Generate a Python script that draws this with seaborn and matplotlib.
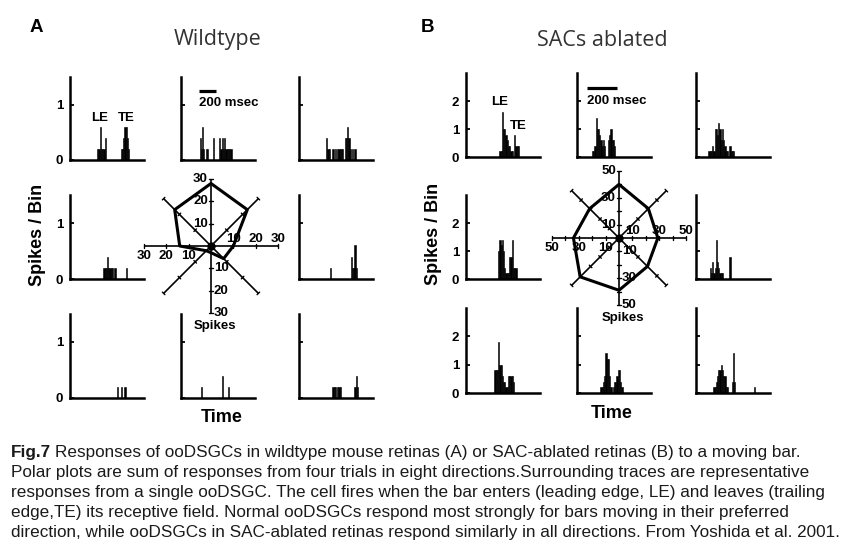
import numpy as np
import pandas as pd
import matplotlib
matplotlib.use('Agg')
import matplotlib.pyplot as plt
import seaborn as sns

sns.set_theme(style='white')
plt.rcParams['font.family'] = ['Liberation Sans', 'DejaVu Sans']

W, H = 850, 557

# ---------------- data ----------------
bin_edges = list(range(0, 61))          # 60 time bins per trace
directions = [0, 45, 90, 135, 180, 225, 270, 315]

# polar plots: summed spikes per direction
wt_spikes = [10, 23, 28, 23, 14, 3, 3, 8]
sac_spikes = [29, 31, 40, 31, 34, 41, 39, 30]
wt_polar_labels = [10, 20, 30]
sac_polar_labels = [10, 30, 50]

wt_yticks = [0, 1]
sac_yticks = [0, 1, 2]

# Wildtype traces (bin index, spikes/bin)
wt_tl_bins = [22, 23, 24, 25, 26, 27, 28, 41, 42, 43, 44, 45, 46, 47]
wt_tl_vals = [0.2, 0.2, 0.6, 0.2, 0.2, 0.2, 0.4, 0.2, 0.2, 0.4, 0.6, 0.6, 0.4, 0.2]
wt_tm_bins = [15, 16, 17, 18, 20, 21, 26, 31, 32, 33, 34, 35, 36, 37, 38, 39, 40]
wt_tm_vals = [0.4, 0.2, 0.6, 0.2, 0.2, 0.2, 0.4, 0.4, 0.2, 0.4, 0.2, 0.4, 0.2, 0.2, 0.2, 0.2, 0.2]
wt_tr_bins = [22, 23, 24, 27, 29, 31, 32, 33, 34, 35, 37, 38, 39, 40, 41, 43, 45]
wt_tr_vals = [0.4, 0.2, 0.2, 0.2, 0.2, 0.2, 0.2, 0.2, 0.2, 0.2, 0.4, 0.4, 0.6, 0.4, 0.2, 0.2, 0.2]
wt_ml_bins = [27, 28, 29, 30, 31, 32, 33, 34, 36, 45]
wt_ml_vals = [0.2, 0.2, 0.2, 0.4, 0.2, 0.2, 0.2, 0.2, 0.2, 0.2]
wt_mr_bins = [25, 42, 43, 44, 45, 46]
wt_mr_vals = [0.2, 0.4, 0.2, 0.2, 0.6, 0.2]
wt_bl_bins = [38, 41, 44]
wt_bl_vals = [0.2, 0.2, 0.2]
wt_bm_bins = [16, 33, 38]
wt_bm_vals = [0.2, 0.4, 0.2]
wt_br_bins = [27, 28, 29, 31, 32, 33, 45, 46, 47]
wt_br_vals = [0.2, 0.2, 0.2, 0.2, 0.2, 0.2, 0.2, 0.4, 0.2]

# SAC-ablated traces
sac_tl_bins = [27, 28, 29, 30, 31, 32, 33, 34, 35, 36, 37, 39, 40, 41, 42]
sac_tl_vals = [0.2, 0.2, 1.6, 1.0, 1.0, 0.8, 0.6, 0.4, 0.4, 0.2, 0.2, 0.8, 0.4, 0.4, 0.4]
sac_tm_bins = [12, 13, 14, 15, 16, 17, 18, 19, 20, 21, 22, 25, 26, 27, 28, 29, 30]
sac_tm_vals = [0.2, 0.2, 0.4, 1.4, 1.0, 1.0, 0.8, 0.6, 0.4, 0.6, 0.4, 0.6, 0.8, 1.0, 0.6, 0.6, 0.4]
sac_tr_bins = [10, 11, 12, 13, 14, 15, 16, 17, 18, 19, 20, 21, 22, 23, 24, 25, 27, 28, 29, 30]
sac_tr_vals = [0.2, 0.2, 0.2, 0.4, 0.2, 1.0, 1.0, 0.8, 1.2, 1.0, 0.6, 1.0, 0.6, 0.4, 0.2, 0.2, 0.4, 0.2, 0.2, 0.2]
sac_ml_bins = [26, 27, 28, 29, 30, 31, 32, 33, 34, 35, 36, 37, 38, 39, 40]
sac_ml_vals = [1.0, 1.4, 1.2, 1.4, 1.0, 0.4, 0.2, 0.2, 0.2, 0.8, 0.8, 1.4, 0.4, 0.4, 0.4]
sac_mr_bins = [11, 12, 13, 14, 15, 16, 17, 18, 19, 20, 21, 27]
sac_mr_vals = [0.4, 0.2, 0.6, 0.2, 0.4, 1.4, 0.6, 0.4, 0.2, 0.2, 0.2, 0.8]
sac_bl_bins = [23, 24, 25, 26, 27, 28, 29, 30, 31, 32, 33, 34, 35, 36, 37, 38]
sac_bl_vals = [0.8, 0.8, 0.8, 1.8, 1.0, 1.0, 0.6, 0.4, 0.4, 0.2, 0.2, 0.6, 0.6, 0.6, 0.6, 0.4]
sac_bm_bins = [19, 20, 21, 22, 23, 24, 25, 26, 27, 29, 30, 31, 32, 33, 34, 35, 36]
sac_bm_vals = [0.2, 0.2, 0.4, 0.6, 1.4, 1.2, 1.2, 0.6, 0.2, 0.2, 0.4, 0.4, 0.6, 0.8, 0.8, 0.4, 0.2]
sac_br_bins = [14, 15, 16, 17, 18, 19, 20, 21, 22, 23, 24, 25, 29, 30, 31, 47]
sac_br_vals = [0.2, 0.2, 0.4, 0.6, 0.8, 0.8, 1.0, 0.8, 0.6, 0.6, 0.2, 0.2, 0.4, 1.4, 0.4, 0.2]

caption_lines = [
    "Responses of ooDSGCs in wildtype mouse retinas (A) or SAC-ablated retinas (B) to a moving bar.",
    "Polar plots are sum of responses from four trials in eight directions.Surrounding traces are representative",
    "responses from a single ooDSGC. The cell fires when the bar enters (leading edge, LE) and leaves (trailing",
    "edge,TE) its receptive field. Normal ooDSGCs respond most strongly for bars moving in their preferred",
    "direction, while ooDSGCs in SAC-ablated retinas respond similarly in all directions. From Yoshida et al. 2001.",
]

# ---------------- figure ----------------
fig = plt.figure(figsize=(W / 100, H / 100), dpi=100)
fig.patch.set_facecolor('white')


def T(x, y, s, **kw):
    return fig.text(x / W, 1 - y / H, s, **kw)


def hist_axes(x0, y_top, y_bot, bins, vals, ymax, yticks, labels):
    ax = fig.add_axes([x0 / W, 1 - y_bot / H, 74 / W, (y_bot - y_top) / H])
    df = pd.DataFrame({'t': [b + 0.5 for b in bins], 'w': vals})
    sns.histplot(data=df, x='t', weights='w', bins=bin_edges, color='black', alpha=1,
                 edgecolor='black', linewidth=0.4, ax=ax)
    ax.set_xlim(0, 60)
    ax.set_ylim(0, ymax)
    ax.set_xticks([])
    ax.set_yticks(yticks)
    if labels:
        ax.set_yticklabels([str(t) for t in yticks], fontweight='bold', fontsize=9.5)
    else:
        ax.set_yticklabels([])
    ax.tick_params(axis='y', direction='in', length=3, width=1.3, colors='black', pad=5,
                   left=True)
    ax.set_xlabel('')
    ax.set_ylabel('')
    for s in ['top', 'right']:
        ax.spines[s].set_visible(False)
    for s in ['left', 'bottom']:
        ax.spines[s].set_linewidth(1.8)
        ax.spines[s].set_color('black')
    ax.set_facecolor('none')
    return ax


def polar_axes(cx, cy, rmax, spikes, label_vals, tick_step):
    ppu = 67.0 / rmax
    half = 80
    ax = fig.add_axes([(cx - half) / W, 1 - (cy + half) / H, 2 * half / W, 2 * half / H])
    lim = half / ppu
    ax.set_xlim(-lim, lim)
    ax.set_ylim(-lim, lim)
    ax.axis('off')
    for ang in directions:
        t = np.deg2rad(ang)
        ax.plot([0, rmax * np.cos(t)], [0, rmax * np.sin(t)], color='black', lw=1.2,
                solid_capstyle='butt')
        nx, ny = -np.sin(t), np.cos(t)
        tl = 1.8 / ppu
        for v in np.arange(tick_step, rmax + 0.01, tick_step):
            px, py = v * np.cos(t), v * np.sin(t)
            ax.plot([px - nx * tl, px + nx * tl], [py - ny * tl, py + ny * tl],
                    color='black', lw=1.0)
    th = np.deg2rad(np.array(directions + [directions[0]]))
    r = np.array(spikes + [spikes[0]], dtype=float)
    sns.lineplot(x=r * np.cos(th), y=r * np.sin(th), sort=False, estimator=None,
                 color='black', lw=2.2, ax=ax)
    ax.plot([0], [0], 'o', color='black', ms=5)
    kw = dict(fontsize=9.5, fontweight='bold', color='black')
    for v in label_vals:
        ax.text(-3 / ppu, v, str(v), ha='right', va='center', **kw)
        ax.text(3 / ppu, -v, str(v), ha='left', va='center', **kw)
        ax.text(v, 7 / ppu, str(v), ha='center', va='center', **kw)
        ax.text(-v, -10 / ppu, str(v), ha='center', va='center', **kw)
    ax.text(4 / ppu, -80 / ppu, 'Spikes', ha='center', va='center', **kw)
    return ax


# ---- Panel A: wildtype ----
colsA = [70, 181, 299]
rowsA = [(77, 160), (195, 279), (314, 398)]
gridA = [[(wt_tl_bins, wt_tl_vals), (wt_tm_bins, wt_tm_vals), (wt_tr_bins, wt_tr_vals)],
         [(wt_ml_bins, wt_ml_vals), None, (wt_mr_bins, wt_mr_vals)],
         [(wt_bl_bins, wt_bl_vals), (wt_bm_bins, wt_bm_vals), (wt_br_bins, wt_br_vals)]]
for i, (yt, yb) in enumerate(rowsA):
    for j, x0 in enumerate(colsA):
        d = gridA[i][j]
        if d is None:
            continue
        hist_axes(x0, yt, yb, d[0], d[1], 1.5, wt_yticks, j == 0)

polar_axes(211, 246, 30, wt_spikes, wt_polar_labels, 10)

# ---- Panel B: SACs ablated ----
colsB = [466, 577, 696]
rowsB = [(73, 157), (195, 279), (308, 393)]
gridB = [[(sac_tl_bins, sac_tl_vals), (sac_tm_bins, sac_tm_vals), (sac_tr_bins, sac_tr_vals)],
         [(sac_ml_bins, sac_ml_vals), None, (sac_mr_bins, sac_mr_vals)],
         [(sac_bl_bins, sac_bl_vals), (sac_bm_bins, sac_bm_vals), (sac_br_bins, sac_br_vals)]]
for i, (yt, yb) in enumerate(rowsB):
    for j, x0 in enumerate(colsB):
        d = gridB[i][j]
        if d is None:
            continue
        hist_axes(x0, yt, yb, d[0], d[1], 3.0, sac_yticks, j == 0)

polar_axes(619, 238, 50, sac_spikes, sac_polar_labels, 10)

# ---- annotations ----
bold = dict(fontweight='bold', color='black')
T(36, 28, 'A', fontsize=13.5, ha='center', va='center', **bold)
T(428, 28, 'B', fontsize=13.5, ha='center', va='center', **bold)
T(218, 40, 'Wildtype', fontsize=15.5, ha='center', va='center', color='#333333',
  family=['Open Sans', 'DejaVu Sans'])
T(602, 40, 'SACs ablated', fontsize=15.5, ha='center', va='center', color='#333333',
  family=['Open Sans', 'DejaVu Sans'])
T(37, 235, 'Spikes / Bin', fontsize=13, rotation=90, ha='center', va='center', **bold)
T(434, 234, 'Spikes / Bin', fontsize=13, rotation=90, ha='center', va='center', **bold)
T(222, 418, 'Time', fontsize=13, ha='center', va='center', **bold)
T(612, 414, 'Time', fontsize=13, ha='center', va='center', **bold)
T(100, 118, 'LE', fontsize=9.5, ha='center', va='center', **bold)
T(126, 118, 'TE', fontsize=9.5, ha='center', va='center', **bold)
T(500, 102, 'LE', fontsize=9.5, ha='center', va='center', **bold)
T(518, 126, 'TE', fontsize=9.5, ha='center', va='center', **bold)

# scale bars
for (xa, xb, yy, ty) in [(199, 216, 91, 103), (587, 617, 88, 101)]:
    fig.add_artist(plt.Line2D([xa / W, xb / W], [1 - yy / H, 1 - yy / H],
                              transform=fig.transFigure, color='black', lw=2.3,
                              solid_capstyle='butt'))
    T(xa, ty, '200 msec', fontsize=9.5, ha='left', va='center', **bold)

# ---- caption ----
cap_kw = dict(fontsize=12.3, color='#1a1a1a', va='baseline')
y0 = 457
fig_lbl = T(11, y0, 'Fig.7', fontweight='bold', ha='left', **cap_kw)
fig.canvas.draw()
bb = fig_lbl.get_window_extent()
fig.text((bb.x1 + 4) / W, 1 - y0 / H, caption_lines[0], ha='left', **cap_kw)
for k, line in enumerate(caption_lines[1:], start=1):
    T(11, y0 + 20 * k, line, ha='left', **cap_kw)

fig.savefig('out.png', dpi=100, facecolor='white')
